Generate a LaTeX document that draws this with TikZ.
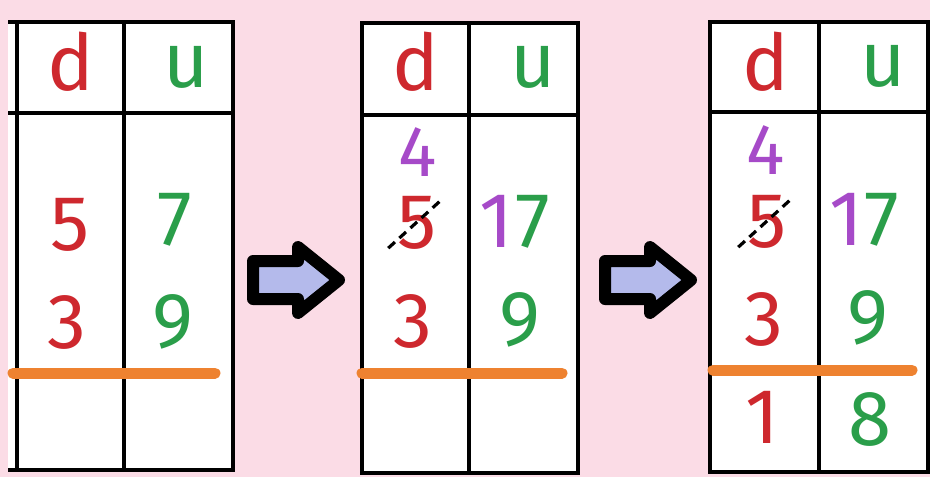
\documentclass[tikz,border=0pt]{standalone}
\usepackage{fontspec}
\setmainfont{Fira Sans}
\definecolor{bgpink}{RGB}{251,220,230}
\definecolor{tenred}{RGB}{206,40,46}
\definecolor{unitgreen}{RGB}{42,158,74}
\definecolor{carrypurple}{RGB}{166,74,200}
\definecolor{sumorange}{RGB}{238,130,48}
\definecolor{lavender}{RGB}{180,186,235}
\begin{document}
\begin{tikzpicture}[x=1pt,y=-1pt,
	grid/.style={line width=3.5pt},
	sumline/.style={line width=11pt,line cap=round,color=sumorange},
	digit/.style={anchor=base,inner sep=0pt,font=\fontsize{78}{78}\selectfont},
	tens/.style={digit,text=tenred},
	units/.style={digit,text=unitgreen},
	carry/.style={digit,text=carrypurple},
	strike/.style={line width=3.2pt,dash pattern=on 9pt off 6pt},
	blockarrow/.style={draw=black,fill=lavender,line width=12pt,line join=round}]
		\useasboundingbox (0,0) rectangle (930,477);
		\fill[bgpink] (0,0) rectangle (930,477);
		% first table
		\fill[white] (8,22) rectangle (233,470);
		\draw[grid] (8,22) -- (233,22) -- (233,470) -- (8,470);
		\draw[grid] (17,22) -- (17,470);
		\draw[grid] (124,22) -- (124,470);
		\draw[grid] (8,113) -- (233,113);
		\draw[sumline] (13,373) -- (215,373);
		\node[tens]  (d1) at (71,90)  {d};
		\node[units] (u1) at (186,87) {u};
		\node[tens]  (a1) at (70,250) {5};
		\node[units] (b1) at (175,245) {7};
		\node[tens]  (c1) at (67,348) {3};
		\node[units] (e1) at (173,347) {9};
		% arrows
		\draw[blockarrow] (253,261) -- (298,261) -- (298,247) -- (339,280) -- (298,313) -- (298,299) -- (253,299) -- cycle;
		\draw[blockarrow,xshift=352] (253,261) -- (298,261) -- (298,247) -- (339,280) -- (298,313) -- (298,299) -- (253,299) -- cycle;
		% second table
		\fill[white] (362,23) rectangle (578,473);
		\draw[grid] (362,23) rectangle (578,473);
		\draw[grid] (469,23) -- (469,473);
		\draw[grid] (362,115) -- (578,115);
		\draw[sumline] (362,373) -- (562,373);
		\node[tens]  (d2) at (416,90) {d};
		\node[units] (u2) at (533,87) {u};
		\node[carry,font=\fontsize{72}{72}\selectfont] (k2) at (418,176) {4};
		\node[tens]  (a2) at (417,248) {5};
		\node[carry] (p2) at (496,247) {1};
		\node[units] (b2) at (533,247) {7};
		\node[tens]  (c2) at (413,347) {3};
		\node[units] (e2) at (520,345) {9};
		\draw[strike] ([shift={(-9,-1)}]a2.south west) -- ([shift={(6,3)}]a2.north east);
		% third table
		\fill[white] (710,22) rectangle (928,472);
		\draw[grid] (710,22) rectangle (928,472);
		\draw[grid] (819,22) -- (819,472);
		\draw[grid] (710,112) -- (928,112);
		\draw[sumline] (713,370) -- (912,370);
		\node[tens]  (d3) at (766,90) {d};
		\node[units] (u3) at (883,86) {u};
		\node[carry,font=\fontsize{72}{72}\selectfont] (k3) at (766,174) {4};
		\node[tens]  (a3) at (767,247) {5};
		\node[carry] (p3) at (846,245) {1};
		\node[units] (b3) at (882,245) {7};
		\node[tens]  (c3) at (764,345) {3};
		\node[units] (e3) at (868,343) {9};
		\node[tens]  (f3) at (762,443) {1};
		\node[units] (g3) at (870,445) {8};
		\draw[strike] ([shift={(-9,-1)}]a3.south west) -- ([shift={(6,3)}]a3.north east);
	\end{tikzpicture}
\end{document}
